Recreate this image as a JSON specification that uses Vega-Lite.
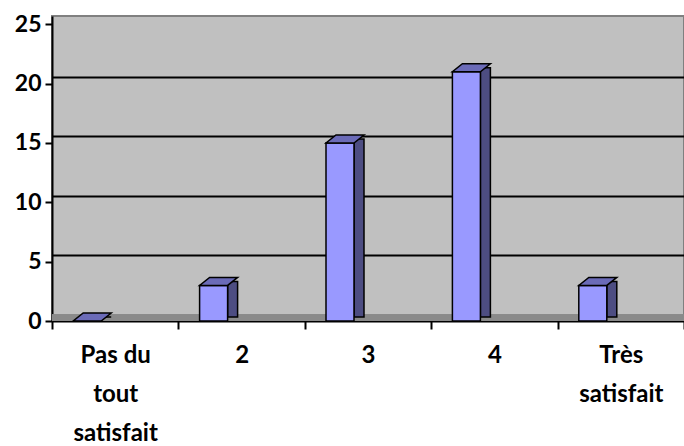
{
  "$schema": "https://vega.github.io/schema/vega-lite/v6.json",
  "width": 632,
  "height": 305,
  "autosize": {"type": "none"},
  "padding": {"left": 52, "top": 16, "right": 0, "bottom": 125},
  "background": "white",
  "config": {
    "view": {"fill": "#C0C0C0", "stroke": "#808080", "strokeWidth": 2},
    "font": "Lato"
  },
  "data": {
    "values": [
      {"cat": "Pas du tout satisfait", "n": 0},
      {"cat": "2", "n": 3},
      {"cat": "3", "n": 15},
      {"cat": "4", "n": 21},
      {"cat": "Très satisfait", "n": 3}
    ]
  },
  "layer": [
    {
      "mark": {"type": "rule", "color": "#8a8a8a", "strokeWidth": 6.5, "yOffset": 3.25},
      "encoding": {
        "y": {
          "datum": 0,
          "type": "quantitative",
          "scale": {"domain": [-0.548, 25.152], "nice": false, "zero": false},
          "axis": {
            "orient": "right",
            "grid": true,
            "gridColor": "black",
            "gridWidth": 2,
            "gridOpacity": 1,
            "labels": false,
            "ticks": false,
            "domain": false,
            "values": [5, 10, 15, 20],
            "title": null
          }
        }
      }
    },
    {
      "encoding": {
        "x": {
          "field": "cat",
          "type": "nominal",
          "sort": null,
          "scale": {"paddingInner": 0, "paddingOuter": 0},
          "axis": {
            "title": null,
            "labelAngle": 0,
            "tickBand": "extent",
            "domainColor": "black",
            "domainWidth": 2,
            "tickColor": "black",
            "tickWidth": 2,
            "tickSize": 8,
            "labelFont": "Lato",
            "labelFontWeight": "bold",
            "labelFontSize": 24,
            "labelColor": "black",
            "labelLineHeight": 39,
            "labelBaseline": "top",
            "labelPadding": 14,
            "labelExpr": "datum.value == 'Pas du tout satisfait' ? ['Pas du', 'tout', 'satisfait'] : datum.value == 'Très satisfait' ? ['Très', 'satisfait'] : datum.value"
          }
        },
        "y": {
          "field": "n",
          "type": "quantitative",
          "scale": {"domain": [0, 25.7], "nice": false},
          "axis": {
            "title": null,
            "grid": false,
            "values": [0, 5, 10, 15, 20, 25],
            "domainColor": "black",
            "domainWidth": 2,
            "tickColor": "black",
            "tickWidth": 2,
            "tickSize": 7,
            "labelFont": "Lato",
            "labelFontWeight": "bold",
            "labelFontSize": 23,
            "labelColor": "black",
            "labelPadding": 4
          }
        }
      },
      "layer": [
        {
          "mark": {"type": "bar", "width": 10, "xOffset": -9, "yOffset": -4, "y2Offset": -4, "fill": "#4D4D82", "stroke": "black", "strokeWidth": 1.5}
        },
        {
          "mark": {"type": "bar", "width": 28, "xOffset": -28, "fill": "#9999FF", "stroke": "black", "strokeWidth": 1.5}
        },
        {
          "mark": {"type": "point", "shape": "M-14,0L14,0L24,-8L-4,-8Z", "size": 4, "filled": true, "fill": "#6B6BB8", "stroke": "black", "strokeWidth": 1.5, "opacity": 1, "xOffset": -28}
        }
      ]
    }
  ],
  "resolve": {"scale": {"y": "independent"}}
}
